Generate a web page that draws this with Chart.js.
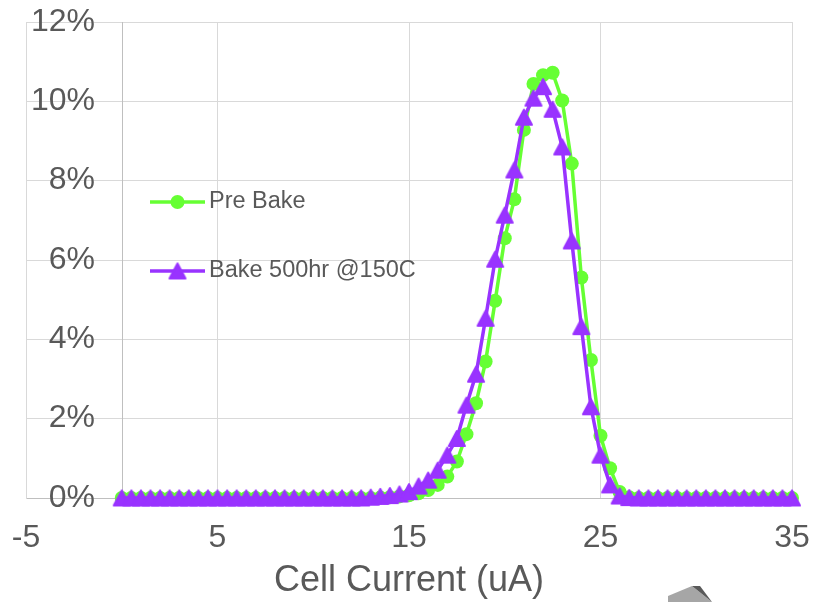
<!DOCTYPE html>
<html>
<head>
<meta charset="utf-8">
<script src="https://cdn.jsdelivr.net/npm/chart.js@4.4.1/dist/chart.umd.min.js"></script>
<style>
  html, body { margin: 0; padding: 0; background: #fff; }
  #grafico { display: block; }
</style>
</head>
<body>
<canvas id="grafico" width="813" height="602"></canvas>
<script>
// corrente da célula (uA)
const corrente = [
  0, 0.5, 1, 1.5, 2, 2.5, 3, 3.5, 4, 4.5, 5, 5.5, 6, 6.5, 7, 7.5, 8, 8.5, 9, 9.5,
  10, 10.5, 11, 11.5, 12, 12.5, 13, 13.5, 14, 14.5, 15, 15.5, 16, 16.5, 17, 17.5,
  18, 18.5, 19, 19.5, 20, 20.5, 21, 21.5, 22, 22.5, 23, 23.5, 24, 24.5, 25, 25.5,
  26, 26.5, 27, 27.5, 28, 28.5, 29, 29.5, 30, 30.5, 31, 31.5, 32, 32.5, 33, 33.5,
  34, 34.5, 35
];

// % de células
const preBake = [
  0, 0, 0, 0, 0, 0, 0, 0, 0, 0, 0, 0, 0, 0, 0, 0, 0, 0, 0, 0,
  0, 0, 0, 0, 0, 0, 0, 0.01, 0.02, 0.04, 0.07, 0.12, 0.2, 0.33, 0.54, 0.92,
  1.61, 2.39, 3.44, 4.97, 6.55, 7.53, 9.28, 10.44, 10.66, 10.72, 10.02, 8.43, 5.56, 3.48, 1.57, 0.75,
  0.15, 0.02, 0, 0, 0, 0, 0, 0, 0, 0, 0, 0, 0, 0, 0, 0,
  0, 0, 0
];

const bake500 = [
  0, 0, 0, 0, 0, 0, 0, 0, 0, 0, 0, 0, 0, 0, 0, 0, 0, 0, 0, 0,
  0, 0, 0, 0, 0, 0, 0.02, 0.04, 0.06, 0.1, 0.16, 0.3, 0.45, 0.7, 1.08, 1.5,
  2.34, 3.12, 4.53, 6.02, 7.13, 8.27, 9.6, 10.08, 10.37, 9.8, 8.85, 6.48, 4.32, 2.3, 1.08, 0.33,
  0.05, 0.01, 0, 0, 0, 0, 0, 0, 0, 0, 0, 0, 0, 0, 0, 0,
  0, 0, 0
];

const nomes = ['Pre Bake', 'Bake 500hr @150C'];
const xMin = -5, xMax = 35, xPasso = 10;
const yMin = 0, yMax = 12, yPasso = 2;

const verde = '#66ff33';
const roxo = '#9933ff';
const cinzaTexto = '#595959';
const fonte = "'Liberation Sans', Arial, sans-serif";

function criarTriangulo(cor, w, h) {
  const c = document.createElement('canvas');
  c.width = w + 4;
  c.height = h + 4;
  const g = c.getContext('2d');
  g.fillStyle = cor;
  g.strokeStyle = cor;
  g.lineWidth = 2;
  g.lineJoin = 'round';
  g.beginPath();
  g.moveTo(c.width / 2, 2);
  g.lineTo(c.width - 2, c.height - 2);
  g.lineTo(2, c.height - 2);
  g.closePath();
  g.fill();
  g.stroke();
  return c;
}

const triangulo = criarTriangulo(roxo, 16, 15);

function semPadding(s) {
  s.paddingLeft = 0;
  s.paddingRight = 0;
  s.paddingTop = 0;
  s.paddingBottom = 0;
}

// linha vertical do eixo em x = 0
const eixoZero = {
  id: 'eixoZero',
  beforeDatasetsDraw(chart) {
    const { ctx, chartArea, scales } = chart;
    const px = Math.round(scales.x.getPixelForValue(0)) + 0.5;
    ctx.save();
    ctx.strokeStyle = '#bfbfbf';
    ctx.lineWidth = 1;
    ctx.beginPath();
    ctx.moveTo(px, chartArea.top);
    ctx.lineTo(px, chartArea.bottom);
    ctx.stroke();
    ctx.restore();
  }
};

// legenda dentro da área do gráfico + pedaço de figura no canto
const legenda = {
  id: 'legenda',
  afterDraw(chart) {
    const { ctx, chartArea } = chart;
    const x0 = chartArea.left + 124;
    const itens = [
      { y: chartArea.top + 180, cor: verde, tipo: 'circulo' },
      { y: chartArea.top + 249, cor: roxo, tipo: 'triangulo' }
    ];
    ctx.save();
    itens.forEach((it, i) => {
      ctx.strokeStyle = it.cor;
      ctx.lineWidth = 3.5;
      ctx.beginPath();
      ctx.moveTo(x0, it.y);
      ctx.lineTo(x0 + 55, it.y);
      ctx.stroke();
      const cx = x0 + 27.5;
      if (it.tipo === 'circulo') {
        ctx.fillStyle = it.cor;
        ctx.beginPath();
        ctx.arc(cx, it.y, 7, 0, Math.PI * 2);
        ctx.fill();
      } else {
        ctx.drawImage(triangulo, cx - triangulo.width / 2, it.y - triangulo.height / 2);
      }
      ctx.fillStyle = cinzaTexto;
      ctx.font = '23.5px ' + fonte;
      ctx.textBaseline = 'middle';
      ctx.textAlign = 'left';
      ctx.fillText(nomes[i], x0 + 59, it.y);
    });

    ctx.fillStyle = '#a6a6a6';
    ctx.beginPath();
    ctx.moveTo(668, 596);
    ctx.lineTo(692, 586);
    ctx.lineTo(712, 602);
    ctx.lineTo(668, 602);
    ctx.closePath();
    ctx.fill();
    ctx.fillStyle = '#595959';
    ctx.beginPath();
    ctx.moveTo(692, 586);
    ctx.lineTo(700, 586);
    ctx.lineTo(712, 602);
    ctx.closePath();
    ctx.fill();
    ctx.restore();
  }
};

const ctx = document.getElementById('grafico').getContext('2d');
const grafico = new Chart(ctx, {
  type: 'line',
  data: {
    datasets: [
      {
        label: nomes[0],
        data: corrente.map((x, i) => ({ x: x, y: preBake[i] })),
        borderColor: verde,
        backgroundColor: verde,
        borderWidth: 3.5,
        pointStyle: 'circle',
        pointRadius: 7,
        pointBorderWidth: 0,
        tension: 0,
        clip: false,
        order: 2
      },
      {
        label: nomes[1],
        data: corrente.map((x, i) => ({ x: x, y: bake500[i] })),
        borderColor: roxo,
        backgroundColor: roxo,
        borderWidth: 3.5,
        pointStyle: triangulo,
        pointRadius: 9,
        tension: 0,
        clip: false,
        order: 1
      }
    ]
  },
  options: {
    responsive: false,
    animation: false,
    devicePixelRatio: 1,
    layout: { padding: { top: 22, right: 21, left: 0, bottom: 0 } },
    plugins: {
      legend: { display: false },
      tooltip: { enabled: false }
    },
    scales: {
      x: {
        type: 'linear',
        min: xMin,
        max: xMax,
        afterFit: s => { s.height = 104; semPadding(s); },
        ticks: {
          stepSize: xPasso,
          color: cinzaTexto,
          font: { family: fonte, size: 32 },
          padding: 21,
          maxRotation: 0
        },
        grid: { color: '#d9d9d9', drawTicks: false },
        border: { color: '#bfbfbf' },
        title: {
          display: true,
          text: 'Cell Current (uA)',
          color: cinzaTexto,
          font: { family: fonte, size: 36 },
          padding: { top: 0, bottom: -1 }
        }
      },
      y: {
        min: yMin,
        max: yMax,
        afterFit: s => { s.width = 26; semPadding(s); },
        ticks: {
          stepSize: yPasso,
          mirror: true,
          crossAlign: 'far',
          padding: 5,
          color: cinzaTexto,
          font: { family: fonte, size: 32 },
          callback: v => v + '%'
        },
        grid: { color: '#d9d9d9', drawTicks: false },
        border: { color: '#d9d9d9' }
      }
    }
  },
  plugins: [eixoZero, legenda]
});
</script>
</body>
</html>
